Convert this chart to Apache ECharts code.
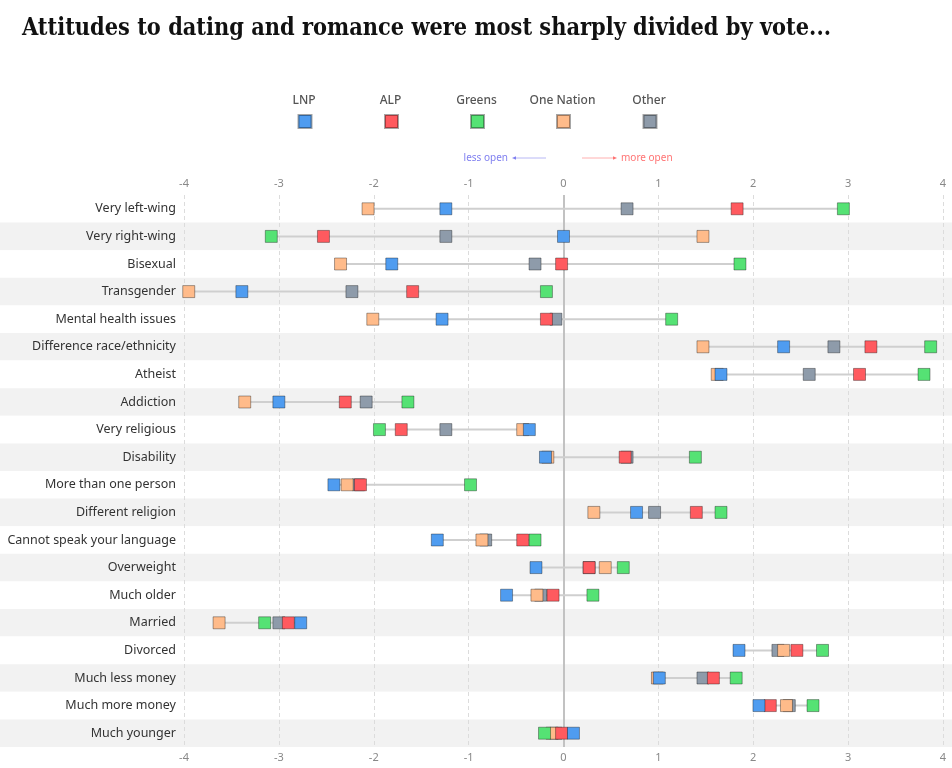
<!DOCTYPE html>
<html>
<head>
<meta charset="utf-8">
<script src="https://cdn.jsdelivr.net/npm/echarts@6/dist/echarts.min.js"></script>
<style>
html,body{margin:0;padding:0;background:#fff;}
#c{width:952px;height:768px;}
#err{position:absolute;left:0;top:740px;font:10px monospace;color:#c00;}
</style>
</head>
<body>
<div id="c"></div>
<div id="err"></div>
<script>
const categories = ['Very left-wing','Very right-wing','Bisexual','Transgender','Mental health issues','Difference race/ethnicity','Atheist','Addiction','Very religious','Disability','More than one person','Different religion','Cannot speak your language','Overweight','Much older','Married','Divorced','Much less money','Much more money','Much younger'];
const LNP       = [-1.24, 0.00, -1.81, -3.39, -1.28, 2.32, 1.66, -3.00, -0.36, -0.19, -2.42, 0.77, -1.33, -0.29, -0.60, -2.77, 1.85, 1.01, 2.06, 0.105];
const ALP       = [1.83, -2.53, -0.02, -1.59, -0.18, 3.24, 3.12, -2.30, -1.71, 0.65, -2.14, 1.40, -0.43, 0.27, -0.11, -2.90, 2.46, 1.58, 2.18, -0.02];
const Greens    = [2.95, -3.08, 1.86, -0.18, 1.14, 3.87, 3.80, -1.64, -1.94, 1.39, -0.98, 1.66, -0.30, 0.63, 0.31, -3.15, 2.73, 1.82, 2.63, -0.20];
const OneNation = [-2.06, 1.47, -2.35, -3.95, -2.01, 1.47, 1.62, -3.36, -0.43, -0.165, -2.28, 0.32, -0.86, 0.44, -0.28, -3.63, 2.32, 0.99, 2.35, -0.12];
const Other     = [0.67, -1.24, -0.30, -2.23, -0.08, 2.85, 2.59, -2.08, -1.24, 0.67, -2.16, 0.96, -0.82, 0.27, -0.24, -3.00, 2.26, 1.47, 2.38, -0.08];
const tickLabels = ['-4','-3','-2','-1','0','1','2','3','4'];
const titleText = 'Attitudes to dating and romance were most sharply divided by vote...';

const parties = [
  {name:'LNP', values: LNP, color:'#4f9cf0'},
  {name:'ALP', values: ALP, color:'#ff5a5f'},
  {name:'Greens', values: Greens, color:'#55e274'},
  {name:'One Nation', values: OneNation, color:'#ffbb8a'},
  {name:'Other', values: Other, color:'#8e9baa'}
];

const rangeData = categories.map((c, i) => {
  const vals = parties.map(p => p.values[i]);
  return [Math.min.apply(null, vals), Math.max.apply(null, vals), c];
});

const chart = echarts.init(document.getElementById('c'), null, {renderer:'canvas'});

const legendX = [304, 390.5, 476.5, 562.5, 649];
const legends = parties.map((p, k) => ({
  data: [p.name],
  left: legendX[k] - 6.5 - 5,
  top: 109,
  icon: 'rect',
  itemWidth: 13,
  itemHeight: 13,
  selectedMode: false,
  formatter: function(){ return ''; },
  textStyle: {fontSize: 1}
}));

const graphics = parties.map((p, k) => ({
  type: 'text',
  x: legendX[k],
  y: 101,
  style: {
    text: p.name, fill: '#555', font: '500 12px "Noto Sans"',
    textAlign: 'center', textVerticalAlign: 'middle'
  }
}));
graphics.push(
  {type:'text', x:508, y:158, style:{text:'less open', fill:'#8080f0', font:'10px "Noto Sans"', textAlign:'right', textVerticalAlign:'middle'}},
  {type:'line', shape:{x1:546, y1:158, x2:515, y2:158}, style:{stroke:'#b8b8f5', lineWidth:1}},
  {type:'polygon', shape:{points:[[512,158],[516,156.3],[516,159.7]]}, style:{fill:'#8080f0'}},
  {type:'text', x:621, y:158, style:{text:'more open', fill:'#ff7373', font:'10px "Noto Sans"', textAlign:'left', textVerticalAlign:'middle'}},
  {type:'line', shape:{x1:582, y1:158, x2:614, y2:158}, style:{stroke:'#ffb0b0', lineWidth:1}},
  {type:'polygon', shape:{points:[[617,158],[613,156.3],[613,159.7]]}, style:{fill:'#ff7373'}}
);

const axisLabelStyle = {
  color:'#888', fontSize:11, fontFamily:'Noto Sans',
  formatter: function(v){ const i = Math.round(v) + 4; return tickLabels[i]; }
};

const series = [
  {
    type: 'custom',
    name: 'range',
    xAxisIndex: 1, yAxisIndex: 1,
    z: 1,
    silent: true,
    encode: {x:[0,1], y:2},
    data: rangeData,
    renderItem: function(params, api){
      const a = api.coord([api.value(0), api.value(2)]);
      const b = api.coord([api.value(1), api.value(2)]);
      return {type:'line', shape:{x1:a[0], y1:a[1], x2:b[0], y2:b[1]}, style:{stroke:'#cfcfcf', lineWidth:2}};
    }
  }
];
parties.slice().reverse().forEach(p => {
  series.push({
    type: 'scatter',
    name: p.name,
    xAxisIndex: 1, yAxisIndex: 1,
    z: 3,
    symbol: 'rect',
    symbolSize: 12,
    itemStyle: {color: p.color, borderColor: 'rgba(0,0,0,0.35)', borderWidth: 1, opacity: 1},
    emphasis: {disabled: true},
    data: categories.map((c, i) => [p.values[i], c])
  });
});

try {
chart.setOption({
  animation: false,
  backgroundColor: '#fff',
  title: {
    text: titleText, left: 17, top: 12,
    textStyle: {fontFamily:'DejaVu Serif Condensed', fontWeight:'bold', fontSize:23.3, color:'#111'}
  },
  legend: legends,
  graphic: graphics,
  grid: [
    {left: 0, right: 0, top: 195, height: 552},
    {left: 184, right: 9, top: 195, height: 552}
  ],
  xAxis: [
    {gridIndex:0, type:'value', min:-4, max:4, show:false},
    {gridIndex:1, type:'value', min:-4, max:4, interval:1, position:'top',
     axisLine:{show:false}, axisTick:{show:false},
     axisLabel: Object.assign({margin:6}, axisLabelStyle),
     splitLine:{show:true, lineStyle:{color:'#dcdcdc', type:[4,3], width:1}}},
    {gridIndex:1, type:'value', min:-4, max:4, interval:1, position:'bottom',
     axisLine:{show:false}, axisTick:{show:false},
     axisLabel: Object.assign({margin:5}, axisLabelStyle),
     splitLine:{show:false}},
    {gridIndex:1, type:'value', min:-4, max:4, interval:4, position:'bottom', offset: 0,
     axisLine:{show:false}, axisTick:{show:false}, axisLabel:{show:false},
     splitLine:{show:true, lineStyle:{color:['rgba(0,0,0,0)','#c2c2c2','rgba(0,0,0,0)'], width:2, type:'solid'}}}
  ],
  yAxis: [
    {gridIndex:0, type:'category', data: categories, inverse:true,
     axisLine:{show:false}, axisTick:{show:false}, axisLabel:{show:false},
     splitLine:{show:false},
     splitArea:{show:true, areaStyle:{color:['#ffffff','#f2f2f2']}}},
    {gridIndex:1, type:'category', data: categories, inverse:true,
     axisLine:{show:false}, axisTick:{show:false},
     axisLabel:{color:'#333', fontSize:12.5, fontFamily:'Noto Sans', margin:8},
     splitLine:{show:false}}
  ],
  series: series
});
} catch (e) {
  document.getElementById('err').textContent = String(e && e.stack || e).slice(0, 300);
}
</script>
</body>
</html>
